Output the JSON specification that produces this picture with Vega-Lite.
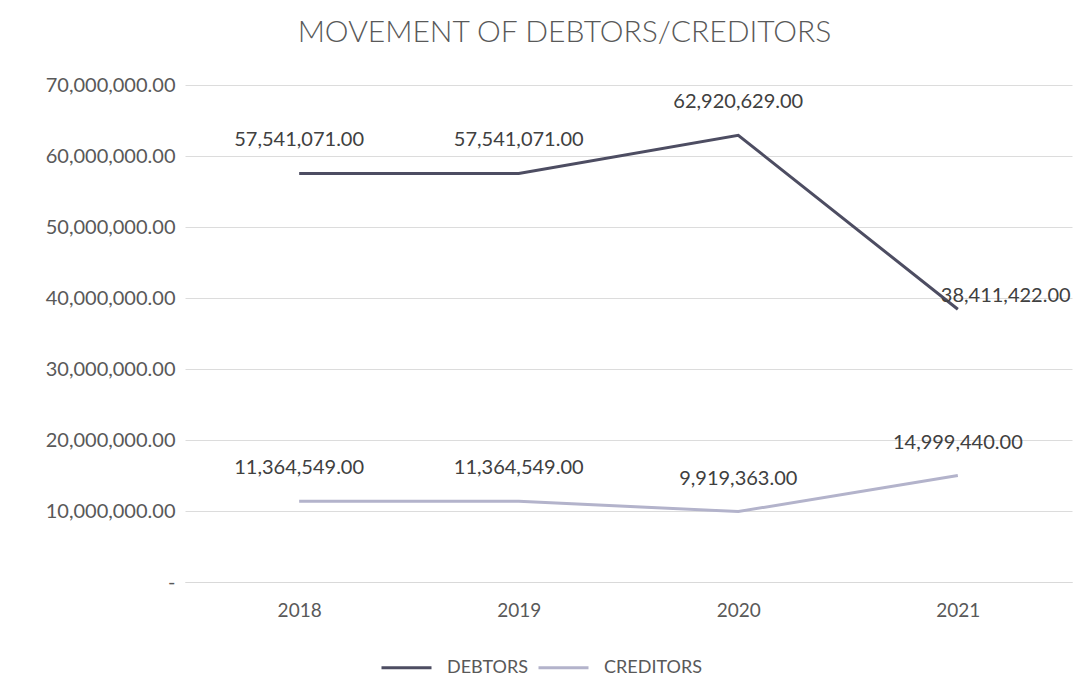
{
  "$schema": "https://vega.github.io/schema/vega-lite/v6.json",
  "autosize": "none",
  "width": 887,
  "height": 497,
  "padding": {"left": 185, "top": 85, "right": 13, "bottom": 113},
  "background": "white",
  "config": {
    "font": "Lato",
    "view": {"stroke": null}
  },
  "title": {
    "text": "MOVEMENT OF DEBTORS/CREDITORS",
    "fontSize": 30,
    "fontWeight": 300,
    "color": "#595959",
    "anchor": "middle",
    "dx": -64,
    "offset": 27
  },
  "data": {
    "values": [
      {"year": "2018", "series": "DEBTORS", "value": 57541071},
      {"year": "2019", "series": "DEBTORS", "value": 57541071},
      {"year": "2020", "series": "DEBTORS", "value": 62920629},
      {"year": "2021", "series": "DEBTORS", "value": 38411422},
      {"year": "2018", "series": "CREDITORS", "value": 11364549},
      {"year": "2019", "series": "CREDITORS", "value": 11364549},
      {"year": "2020", "series": "CREDITORS", "value": 9919363},
      {"year": "2021", "series": "CREDITORS", "value": 14999440}
    ]
  },
  "encoding": {
    "x": {
      "field": "year",
      "type": "ordinal",
      "scale": {"type": "point", "padding": 0.52},
      "axis": {
        "title": null,
        "labelAngle": 0,
        "ticks": false,
        "domainColor": "#d9d9d9",
        "labelColor": "#595959",
        "labelFontSize": 19,
        "labelPadding": 19
      }
    },
    "y": {
      "field": "value",
      "type": "quantitative",
      "scale": {"domain": [0, 70000000]},
      "axis": {
        "title": null,
        "values": [0, 10000000, 20000000, 30000000, 40000000, 50000000, 60000000, 70000000],
        "labelExpr": "datum.value == 0 ? '-' : format(datum.value, ',.2f')",
        "labelOverlap": false,
        "labelBound": false,
        "domain": false,
        "ticks": false,
        "gridColor": "#dcdcdc",
        "labelColor": "#595959",
        "labelFontSize": 20,
        "labelPadding": 10
      }
    }
  },
  "layer": [
    {
      "mark": {"type": "line", "strokeWidth": 3},
      "encoding": {
        "color": {
          "field": "series",
          "type": "nominal",
          "scale": {"domain": ["DEBTORS", "CREDITORS"], "range": ["#4d4d62", "#b3b3cb"]},
          "legend": {
            "title": null,
            "orient": "none",
            "legendX": 195,
            "legendY": 556,
            "direction": "horizontal",
            "symbolType": "stroke",
            "symbolStrokeWidth": 3,
            "symbolSize": 2500,
            "labelFontSize": 18,
            "labelColor": "#595959",
            "labelOffset": 14,
            "columnPadding": 4
          }
        }
      }
    },
    {
      "transform": [{"filter": "!(datum.series == 'DEBTORS' && datum.year == '2021')"}],
      "mark": {"type": "text", "dy": -33, "fontSize": 20, "color": "#404040", "baseline": "middle"},
      "encoding": {"text": {"field": "value", "type": "quantitative", "format": ",.2f"}}
    },
    {
      "transform": [{"filter": "datum.series == 'DEBTORS' && datum.year == '2021'"}],
      "mark": {"type": "text", "dx": -17, "dy": -13, "align": "left", "fontSize": 20, "color": "#404040", "baseline": "middle"},
      "encoding": {"text": {"field": "value", "type": "quantitative", "format": ",.2f"}}
    }
  ]
}
